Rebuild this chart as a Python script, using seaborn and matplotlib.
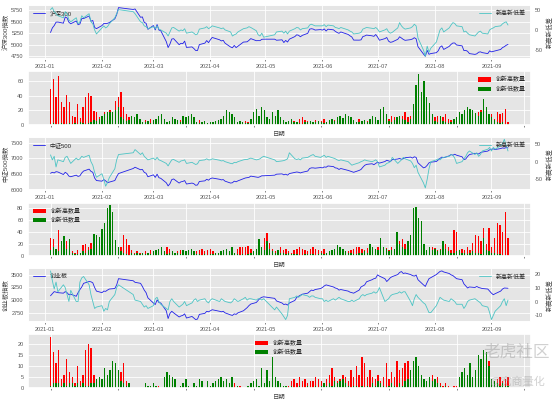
"""
新高新低 - 沪深300 / 中证500 / 创业板
"""

import numpy as np
import pandas as pd
import matplotlib
matplotlib.use("Agg")
import matplotlib.pyplot as plt
import matplotlib.dates as mdates
from matplotlib.ticker import MultipleLocator
import seaborn as sns

# 交易日 2021-01-04 ~ 2021-09-10
HOLIDAYS = ["2021-02-11", "2021-02-12", "2021-02-15", "2021-02-16",
            "2021-02-17", "2021-04-05", "2021-05-03", "2021-05-04",
            "2021-05-05", "2021-06-14"]
trade_days = pd.bdate_range("2021-01-04", "2021-09-10")
trade_days = trade_days[~trade_days.isin(pd.to_datetime(HOLIDAYS))]

# ---------------- 沪深300 ----------------
hs300_close = [
    5268, 5368, 5418, 5492, 5495, 5470, 5605, 5584, 5491, 5458, 5518, 5437, 5454, 5571, 5570, 5626, 5513, 5528, 5377, 5352,
    5418, 5463, 5463, 5467, 5483, 5565, 5655, 5808, 5768, 5779, 5598, 5606, 5487, 5469, 5337,
    5419, 5324, 5441, 5321, 5307, 5071, 4941, 5017, 5126, 5134, 5004, 5034, 5025, 5081, 4944, 4955, 4921, 4878, 4877, 5005, 5037, 5093, 5048,
    5110, 5160, 5110, 5085, 5098, 5036, 4953, 4936, 4987, 4940, 4970, 5060, 5063, 5066, 5098, 5135, 5090, 5092, 5091, 5120, 5123,
    5123, 5100, 5109, 5050, 5096, 5061, 5123, 5180, 5218, 5208, 5175, 5205, 5250, 5340, 5350, 5342, 5321, 5331,
    5320, 5345, 5300, 5340, 5326, 5293, 5268, 5250, 5280, 5225, 5196, 5170, 5103, 5102, 5108, 5180, 5192, 5212, 5196, 5184, 5224,
    5170, 5100, 5135, 5160, 5080, 5055, 5063, 5120, 5175, 5148, 5118, 5098, 5113, 5127, 5155, 5130, 4960, 4800, 4752, 4880, 4795, 4811,
    4830, 4870, 4950, 4978, 4900, 4967, 5010, 5040, 5040, 4997, 4978, 4875, 4880, 4860, 4810, 4793, 4805, 4840, 4848, 4831, 4810, 4870,
    4848, 4858, 4870, 4900, 4940, 4960, 4990, 5010,
]
hs300_diff = [
    50, 55, 45, 40, 35, 30, 45, 40, 25, 20, 30, 15, 20, 35, 30, 40, 20, 15, 0, -10,
    5, 10, 5, 8, 15, 30, 40, 50, 45, 40, 20, 18, 10, 8, 3,
    8, 3, 10, 2, 0, -8, -15, -5, 5, 6, -3, 0, -2, 3, -8, -5, -8, -12, -10, 2, 5, 8, 3,
    6, 10, 5, 3, 5, 0, -5, -15, -12, -10, -5, 3, 4, 5, 8, 6, -2, -12, -15, -8, -18,
    -12, -5, -3, -8, -3, -10, -3, 3, 6, 5, 0, 3, 5, 12, 14, 12, 10, 10,
    10, 13, 8, 12, 10, 6, 5, 3, 6, 0, -3, -5, -10, -8, -6, 2, 4, 6, 4, 3, 6,
    2, -5, 0, 3, -5, -8, -6, 5, 18, 10, 5, 2, 5, 8, 14, 10, -20, -50, -65, -40, -55, -45,
    -30, -15, 0, 5, -5, 5, 12, 18, 16, 10, 8, -5, -3, -8, -12, -15, -10, -5, -3, -8, -10, 0,
    3, 5, 8, 10, 15, 18, 20, 12,
]
hs300_high = [
    49, 64, 38, 67, 32, 24, 41, 31, 12, 10, 28, 9, 25, 38, 44, 40, 19, 17, 10, 8,
    18, 15, 20, 18, 33, 39, 46, 24, 15, 10, 6, 8, 5, 4, 3,
    6, 3, 8, 2, 5, 8, 1, 3, 4, 2, 5, 1, 2, 6, 8, 4, 2, 1, 2, 3, 6, 2, 4,
    2, 3, 1, 2, 3, 2, 1, 1, 2, 1, 1, 3, 2, 4, 5, 3, 2, 1, 3, 2, 4,
    3, 2, 4, 1, 2, 5, 3, 6, 4, 2, 3, 5, 4, 8, 10, 6, 5, 3,
    4, 6, 3, 5, 8, 3, 4, 2, 6, 3, 5, 8, 4, 3, 6, 5, 4, 8, 3, 2, 5,
    4, 2, 5, 6, 3, 12, 15, 8, 12, 10, 8, 6, 12, 18, 10, 12, 6, 4, 5, 8, 3, 2,
    3, 5, 10, 12, 8, 10, 14, 8, 6, 4, 2, 1, 3, 2, 1, 3, 4, 12, 18, 20, 15, 10,
    12, 15, 8, 17, 15, 16, 21, 4,
]
hs300_low = [
    1, 2, 1, 1, 2, 1, 1, 2, 1, 2, 1, 3, 2, 1, 2, 4, 6, 5, 8, 12,
    15, 17, 18, 17, 20, 24, 10, 8, 5, 6, 12, 10, 14, 8, 4,
    3, 5, 2, 6, 8, 12, 15, 8, 4, 5, 10, 8, 6, 4, 12, 10, 12, 14, 11, 4, 2, 3, 5,
    2, 3, 4, 5, 6, 8, 12, 20, 18, 15, 10, 4, 5, 3, 2, 2, 8, 18, 22, 12, 25,
    20, 10, 8, 18, 12, 20, 10, 6, 4, 5, 8, 4, 3, 2, 1, 3, 4, 5,
    4, 3, 5, 3, 2, 4, 6, 8, 5, 10, 12, 9, 14, 12, 10, 6, 4, 3, 5, 6, 4,
    8, 12, 10, 6, 22, 25, 14, 5, 3, 6, 10, 12, 8, 6, 3, 8, 28, 55, 71, 45, 61, 39,
    30, 15, 5, 3, 12, 5, 3, 2, 4, 8, 10, 18, 15, 20, 25, 22, 20, 16, 12, 18, 35, 25,
    15, 10, 6, 4, 2, 3, 1, 1,
]

# ---------------- 中证500 ----------------
zz500_close = [
    6530, 6560, 6540, 6580, 6570, 6490, 6560, 6520, 6440, 6420, 6470, 6430, 6450, 6540, 6600, 6660, 6590, 6560, 6380, 6300,
    6280, 6330, 6290, 6230, 6250, 6300, 6420, 6520, 6680, 6720, 6640, 6650, 6560, 6530, 6420,
    6480, 6400, 6500, 6390, 6370, 6230, 6130, 6200, 6330, 6350, 6220, 6260, 6270, 6300, 6190, 6220, 6200, 6150, 6160, 6270, 6290, 6340, 6310,
    6360, 6380, 6340, 6320, 6330, 6280, 6220, 6230, 6280, 6260, 6290, 6360, 6380, 6390, 6400, 6440, 6410, 6400, 6420, 6450, 6450,
    6470, 6500, 6510, 6480, 6500, 6470, 6520, 6560, 6570, 6560, 6540, 6560, 6600, 6680, 6700, 6700, 6690, 6710,
    6700, 6730, 6720, 6760, 6740, 6700, 6690, 6650, 6680, 6620, 6600, 6580, 6560, 6620, 6650, 6720, 6780, 6810, 6830, 6800, 6840,
    6880, 6850, 6900, 6940, 6920, 6900, 6960, 6980, 7000, 6970, 6990, 7020, 7040, 7010, 7050, 7030, 6860, 6700, 6720, 6780, 6860, 6880,
    6900, 6950, 7000, 7040, 7020, 7080, 7120, 7100, 7130, 7100, 7050, 6960, 6980, 7060, 7120, 7160, 7150, 7140, 7180, 7200, 7230, 7270,
    7290, 7300, 7280, 7310, 7330, 7320, 7340, 7330,
]
zz500_diff = [
    19, 5, 15, -15, 5, 0, 12, 15, 5, -5, 10, 5, 8, 15, 12, 18, 0, -10, -30, -44,
    -34, -50, -69, -59, -45, -20, 5, 20, 25, 34, 20, 25, 15, 10, 5,
    10, 5, 12, 5, 3, -5, -12, -3, 5, 6, -2, 2, 3, 5, -5, -2, -5, -8, -6, 3, 5, 8, 5,
    5, 8, 4, 2, 3, 0, -5, -6, -2, -3, 0, 5, 6, 6, 8, 10, 5, 6, 8, 12, 15,
    5, 0, 2, 3, 5, 8, 25, 8, 6, 8, 5, 10, 12, 15, 18, 20, 15, 12,
    15, 18, 12, 15, 10, 8, 5, 3, 5, 0, -5, -10, -8, -3, 0, 2, 5, 3, 0, 2, 5,
    0, -15, -10, -5, -3, 0, 12, -5, 0, 5, 12, 8, 2, -5, -17, -10, -30, -60, -74, -50, -20, 0,
    5, 8, 5, 10, 12, 15, 20, 18, 10, -5, 0, 8, 15, 25, 30, 20, 25, 15, 20, 30, 35, 40,
    30, 40, 35, 45, 50, 63, 45, 30,
]
zz500_high = [
    31, 28, 10, 43, 20, 33, 25, 12, 8, 5, 10, 6, 18, 20, 15, 22, 10, 8, 6, 4,
    10, 8, 6, 5, 8, 12, 15, 35, 28, 18, 10, 6, 8, 5, 4,
    8, 4, 10, 5, 3, 2, 1, 3, 15, 12, 5, 6, 8, 10, 3, 4, 5, 2, 3, 8, 10, 12, 8,
    10, 12, 8, 6, 5, 4, 3, 2, 5, 4, 6, 12, 15, 16, 15, 17, 12, 8, 10, 12, 15,
    30, 38, 22, 12, 8, 10, 15, 10, 12, 8, 6, 10, 12, 15, 12, 10, 8, 12,
    15, 12, 10, 8, 12, 6, 5, 4, 8, 5, 6, 4, 3, 8, 10, 12, 15, 16, 12, 10, 14,
    18, 10, 12, 15, 20, 12, 14, 10, 15, 8, 27, 25, 28, 20, 10, 8, 5, 3, 4, 8, 12, 10,
    12, 15, 14, 10, 12, 15, 20, 15, 10, 43, 40, 8, 12, 10, 15, 10, 22, 35, 33, 25, 47, 20,
    47, 15, 30, 55, 52, 40, 73, 30,
]
zz500_low = [
    10, 15, 12, 8, 25, 33, 12, 28, 5, 3, 4, 6, 8, 5, 10, 12, 37, 35, 32, 46,
    55, 80, 85, 74, 27, 15, 8, 5, 3, 2, 5, 4, 6, 3, 5,
    4, 6, 3, 8, 10, 12, 15, 8, 4, 5, 8, 6, 5, 3, 10, 8, 10, 12, 8, 4, 3, 2, 3,
    2, 3, 4, 6, 5, 8, 10, 12, 8, 15, 6, 3, 2, 3, 2, 4, 6, 8, 12, 28, 15,
    10, 25, 12, 8, 6, 10, 5, 6, 4, 5, 3, 4, 3, 2, 2, 3, 4, 3,
    3, 2, 4, 5, 3, 6, 8, 10, 12, 18, 15, 12, 8, 6, 5, 4, 3, 5, 6, 8, 5,
    20, 15, 12, 10, 30, 15, 12, 8, 10, 12, 40, 20, 15, 12, 25, 35, 80, 82, 64, 58, 20, 10,
    15, 10, 12, 8, 10, 25, 12, 8, 5, 6, 8, 10, 6, 5, 4, 5, 8, 6, 5, 4, 30, 10,
    8, 5, 6, 4, 3, 2, 2, 1,
]

# ---------------- 创业板 ----------------
cyb_close = [
    3090, 3130, 3170, 3160, 3150, 3140, 3170, 3150, 3110, 3120, 3080, 3150, 3210, 3260, 3330, 3365, 3360, 3340, 3250, 3180,
    3150, 3180, 3175, 3200, 3220, 3230, 3300, 3420, 3380, 3350, 3330, 3270, 3200, 3150, 3050,
    2950, 2920, 3010, 2960, 2950, 2800, 2650, 2750, 2790, 2760, 2680, 2700, 2710, 2740, 2660, 2690, 2660, 2630, 2640, 2730, 2750, 2790, 2780,
    2800, 2820, 2790, 2780, 2790, 2760, 2720, 2710, 2740, 2730, 2760, 2800, 2830, 2860, 2900, 2930, 2960, 3000, 3040, 3060, 3070,
    3040, 2990, 2950, 2920, 2930, 2910, 2950, 3000, 3060, 3080, 3100, 3120, 3140, 3170, 3200, 3190, 3210, 3230,
    3250, 3280, 3300, 3290, 3260, 3240, 3230, 3200, 3210, 3180, 3160, 3150, 3140, 3200, 3260, 3280, 3300, 3360, 3400, 3420, 3430,
    3494, 3470, 3420, 3365, 3400, 3440, 3460, 3500, 3540, 3558, 3520, 3530, 3500, 3480, 3470, 3490, 3400, 3300, 3270, 3350, 3420, 3440,
    3500, 3530, 3560, 3570, 3550, 3520, 3494, 3480, 3450, 3420, 3400, 3320, 3280, 3240, 3260, 3250, 3270, 3250, 3240, 3230, 3220, 3180,
    3140, 3110, 3130, 3180, 3220, 3240, 3238, 3235,
]
cyb_diff = [
    22, 15, 9, 14, 7, 12, 10, 5, 0, 8, 0, 0, 14, 17, 18, 12, 5, 0, -5, -4,
    -3, -7, -5, -6, 0, 5, 10, 12, 5, 1, 0, -2, -4, -3, -5,
    -3, 2, 3, 0, -2, -5, -6, 0, 2, 0, -4, -3, -2, 0, -3, -1, 1, 2, 0, 1, 2, 0, -1,
    1, 2, 0, 2, 1, 0, -1, 0, 2, 1, 0, 2, 3, 1, 2, 2, 1, 2, 2, 1, 2,
    -6, -4, -9, -11, -13, -10, 2, 3, 4, 3, 4, 5, 4, 3, 4, 4, 3, 2,
    2, 0, 1, 0, 2, 1, 2, 3, 2, 0, 0, 1, 0, 2, 4, 5, 4, 5, 6, 7, 6,
    7, 10, 0, 1, 2, 4, 5, 6, 7, 6, 7, 7, 0, -3, 2, 5, 3, -1, -2, -5, -8, -8,
    -3, 0, 3, 2, 1, 0, 2, 1, 0, -2, -2, -5, -3, 0, 1, 2, 1, 0, -1, -3, -4, -8,
    -13, -10, -7, -3, 0, 2, -3, 1,
]
cyb_high = [
    23, 16, 11, 17, 4, 6, 13, 7, 5, 2, 10, 3, 6, 17, 20, 18, 6, 3, 2, 1,
    5, 3, 6, 4, 7, 2, 7, 11, 3, 1, 0, 0, 0, 0, 0,
    0, 0, 0, 0, 0, 1, 0, 1, 0, 0, 0, 0, 0, 0, 0, 0, 0, 0, 0, 0, 0, 0, 0,
    0, 0, 0, 1, 0, 2, 3, 2, 1, 3, 2, 0, 1, 0, 0, 1, 2, 1, 0, 1, 0,
    1, 2, 1, 0, 1, 0, 2, 1, 0, 1, 3, 4, 2, 5, 3, 4, 2, 3,
    3, 5, 4, 3, 2, 4, 6, 9, 5, 3, 4, 6, 5, 3, 8, 5, 10, 6, 14, 11, 5,
    8, 5, 4, 6, 3, 5, 11, 4, 7, 5, 12, 8, 9, 11, 12, 6, 5, 3, 2, 4, 3, 2,
    4, 6, 3, 5, 2, 1, 2, 1, 0, 1, 1, 0, 1, 2, 1, 2, 1, 2, 3, 2, 3, 2,
    12, 3, 2, 4, 5, 3, 4, 5,
]
cyb_low = [
    1, 2, 2, 2, 1, 2, 1, 2, 2, 1, 2, 1, 2, 1, 1, 2, 2, 4, 5, 4,
    9, 6, 8, 12, 11, 8, 3, 2, 1, 2, 0, 0, 0, 0, 0,
    2, 1, 1, 2, 1, 0, 0, 5, 7, 6, 5, 4, 0, 1, 2, 4, 1, 0, 2, 1, 4, 3, 0,
    3, 1, 2, 3, 4, 5, 3, 4, 2, 5, 0, 1, 0, 0, 0, 1, 2, 3, 4, 1, 9,
    2, 8, 3, 14, 5, 3, 2, 1, 1, 0, 1, 0, 0, 1, 0, 0, 1, 0,
    0, 1, 0, 1, 2, 1, 2, 1, 3, 2, 3, 4, 2, 1, 0, 1, 1, 0, 1, 0, 1,
    0, 2, 1, 3, 2, 1, 0, 1, 2, 1, 0, 2, 1, 3, 4, 8, 12, 14, 10, 6, 4, 3,
    5, 3, 4, 2, 1, 0, 1, 0, 0, 0, 0, 5, 7, 9, 6, 11, 5, 8, 15, 13, 17, 16,
    10, 4, 3, 2, 1, 2, 1, 1,
]


def draw_index(ax, close, diff, name, step):
    """
    指数走势 + 新高新低差 (右轴)
    """

    sns.lineplot(x=trade_days, y=close, ax=ax, color="#2020e8",
                 linewidth=0.6, label=name)
    ax.set_ylabel(name + "指数")
    ax.yaxis.set_label_coords(-0.038, 0.5)
    ax.set_xlabel("")
    ax.yaxis.set_major_locator(MultipleLocator(step))
    ax.legend(loc="upper left", frameon=False)

    ax2 = ax.twinx()
    sns.lineplot(x=trade_days, y=diff, ax=ax2, color="#4cc4c4",
                 linewidth=0.6, label="新高新低差")
    ax2.set_ylabel("新高新低差", labelpad=2)
    ax2.grid(False)
    ax2.legend(loc="upper right", frameon=False)

    ax.xaxis.set_major_locator(mdates.MonthLocator())
    ax.xaxis.set_major_formatter(mdates.DateFormatter("%Y-%m"))
    return ax2


def draw_count(ax, high, low, loc, step):
    """
    创新高 / 创新低 数量柱状图
    """

    idx = np.arange(len(high))
    sns.barplot(x=idx, y=high, ax=ax, color="red", saturation=1,
                width=0.5, native_scale=True, linewidth=0,
                label="创新高数量")
    sns.barplot(x=idx, y=low, ax=ax, color="green", saturation=1,
                width=0.5, native_scale=True, linewidth=0,
                label="创新低数量")
    ax.set_xlim(-8.45, len(high) - 1 + 8.45)
    ax.set_xticks(np.arange(0, 176, 25))
    ax.set_xticklabels([])
    ax.yaxis.set_major_locator(MultipleLocator(step))
    ax.set_xlabel("日期")
    ax.set_ylabel("")
    ax.legend(loc=loc, frameon=False, handlelength=2.2)


sns.set_theme(style="darkgrid", rc={
    "axes.facecolor": "#E5E5E5",
    "grid.color": "white",
    "grid.linewidth": 0.6,
    "xtick.bottom": True,
    "xtick.major.size": 1.5,
    "xtick.major.width": 0.5,
    "ytick.major.size": 0,
    "xtick.color": "#555555",
    "ytick.color": "#555555",
    "axes.labelcolor": "#444444",
    "xtick.labelsize": 4.0,
    "ytick.labelsize": 4.0,
    "axes.labelsize": 4.6,
    "legend.fontsize": 4.3,
    "axes.labelpad": 1.5,
    "xtick.major.pad": 2,
    "ytick.major.pad": 3,
})
plt.rcParams["font.family"] = ["Liberation Sans", "Noto Sans CJK SC"]
plt.rcParams["axes.unicode_minus"] = False

fig, axes = plt.subplots(6, 1, figsize=(5.53, 3.99), dpi=100)
fig.subplots_adjust(left=0.050, right=0.960, top=0.987,
                    bottom=0.028, hspace=0.23)

draw_index(axes[0], hs300_close, hs300_diff, "沪深300", 250)
draw_count(axes[1], hs300_high, hs300_low, "upper right", 20)

draw_index(axes[2], zz500_close, zz500_diff, "中证500", 500)
axes[2].set_ylim(5990, 7680)
draw_count(axes[3], zz500_high, zz500_low, "upper left", 20)

draw_index(axes[4], cyb_close, cyb_diff, "创业板", 250)
draw_count(axes[5], cyb_high, cyb_low, "upper center", 5)

# 水印
fig.text(0.995, 0.105, "老虎社区", ha="right", fontsize=12,
         color="#999999", alpha=0.45)
fig.text(0.985, 0.035, "@宽商量化", ha="right", fontsize=8,
         color="#999999", alpha=0.45)

fig.savefig("out.png", dpi=100)
plt.close(fig)
